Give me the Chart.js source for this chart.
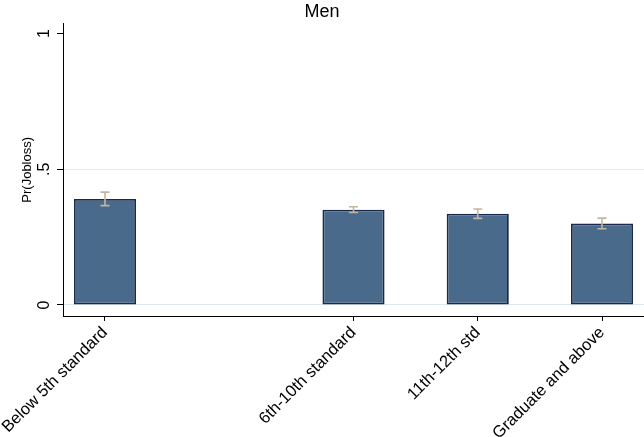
<!DOCTYPE html>
<html>
<head>
<meta charset="utf-8">
<script src="https://cdn.jsdelivr.net/npm/chart.js@4"></script>
<style>
  html, body { margin: 0; padding: 0; background: #fff; }
  #wrap { width: 644px; height: 437px; }
</style>
</head>
<body>
<div id="wrap"><canvas id="chart"></canvas></div>
<script>
// slot 1 is an empty gap in the original figure
const categories = ["Below 5th standard", "", "6th-10th standard", "11th-12th std", "Graduate and above"];
const slots = [0, 2, 3, 4];
const probs = [0.391, 0.351, 0.336, 0.300];
const ciLow = [0.366, 0.341, 0.319, 0.281];
const ciHigh = [0.416, 0.362, 0.354, 0.320];
const yTicks = [0, 0.5, 1];
const yTickLabels = ["0", ".5", "1"];

const FONT = "'Liberation Sans', Arial, sans-serif";

// error caps drawn through the chart's own scales
const errorBars = {
  id: "errorBars",
  afterDatasetsDraw(chart) {
    const { ctx, scales: { x, y } } = chart;
    ctx.save();
    ctx.strokeStyle = "#c4b5a3";
    ctx.lineWidth = 1.6;
    slots.forEach((s, i) => {
      const px = x.getPixelForValue(s);
      const lo = y.getPixelForValue(ciLow[i]);
      const hi = y.getPixelForValue(ciHigh[i]);
      ctx.beginPath();
      ctx.moveTo(px, lo); ctx.lineTo(px, hi);
      ctx.moveTo(px - 4.5, lo); ctx.lineTo(px + 4.5, lo);
      ctx.moveTo(px - 4.5, hi); ctx.lineTo(px + 4.5, hi);
      ctx.stroke();
    });
    ctx.restore();
  },
};

// rotated y tick labels, Stata style
const yLabels = {
  id: "yLabels",
  afterDraw(chart) {
    const { ctx, scales: { y } } = chart;
    ctx.save();
    ctx.fillStyle = "#000";
    ctx.font = "16px " + FONT;
    ctx.textAlign = "center";
    ctx.textBaseline = "middle";
    yTicks.forEach((v, i) => {
      ctx.save();
      ctx.translate(44, y.getPixelForValue(v));
      ctx.rotate(-Math.PI / 2);
      ctx.fillText(yTickLabels[i], 0, 1);
      ctx.restore();
    });
    ctx.restore();
  },
};

new Chart(document.getElementById("chart"), {
  type: "bar",
  data: {
    datasets: [
      {
        data: slots.map((s, i) => ({ x: s, y: probs[i] })),
        backgroundColor: "#4a6a8b",
        borderColor: "#1b2a4c",
        borderWidth: 1.8,
        borderSkipped: false,
        barPercentage: 0.5,
        categoryPercentage: 1,
      },
    ],
  },
  options: {
    responsive: true,
    maintainAspectRatio: false,
    animation: false,
    layout: { padding: 0 },
    plugins: {
      legend: { display: false },
      tooltip: { enabled: false },
      title: {
        display: true,
        text: "Men",
        color: "#000",
        font: { family: FONT, size: 18, weight: "normal" },
        padding: { top: 1, bottom: 1 },
      },
    },
    scales: {
      x: {
        type: "linear",
        offset: false,
        min: -0.338,
        max: 4.338,
        afterBuildTicks: (s) => { s.ticks = slots.map((v) => ({ value: v })); },
        afterFit: (s) => { s.height = 121; s.paddingLeft = 0; s.paddingRight = 0; },
        grid: { offset: false, drawOnChartArea: false, tickLength: 5, tickColor: "#000" },
        border: { color: "#000", width: 1 },
        ticks: {
          maxRotation: 45,
          minRotation: 45,
          autoSkip: false,
          padding: 2,
          color: "#000",
          font: { family: FONT, size: 16.5 },
          callback: (v) => categories[v],
        },
      },
      y: {
        min: -0.0406,
        max: 1.037,
        afterBuildTicks: (s) => { s.ticks = yTicks.map((v) => ({ value: v })); },
        afterFit: (s) => { s.width = 63; },
        grid: {
          color: (c) => (c.tick && c.tick.value === 1 ? "rgba(0,0,0,0)" : "#dcebef"),
          tickLength: 6,
          tickColor: "#000",
        },
        border: { color: "#000", width: 1 },
        ticks: { display: false },
        title: {
          display: true,
          text: "Pr(Jobloss)",
          color: "#000",
          font: { family: FONT, size: 13 },
          padding: { top: 20, bottom: 0 },
        },
      },
    },
  },
  plugins: [errorBars, yLabels],
});
</script>
</body>
</html>
